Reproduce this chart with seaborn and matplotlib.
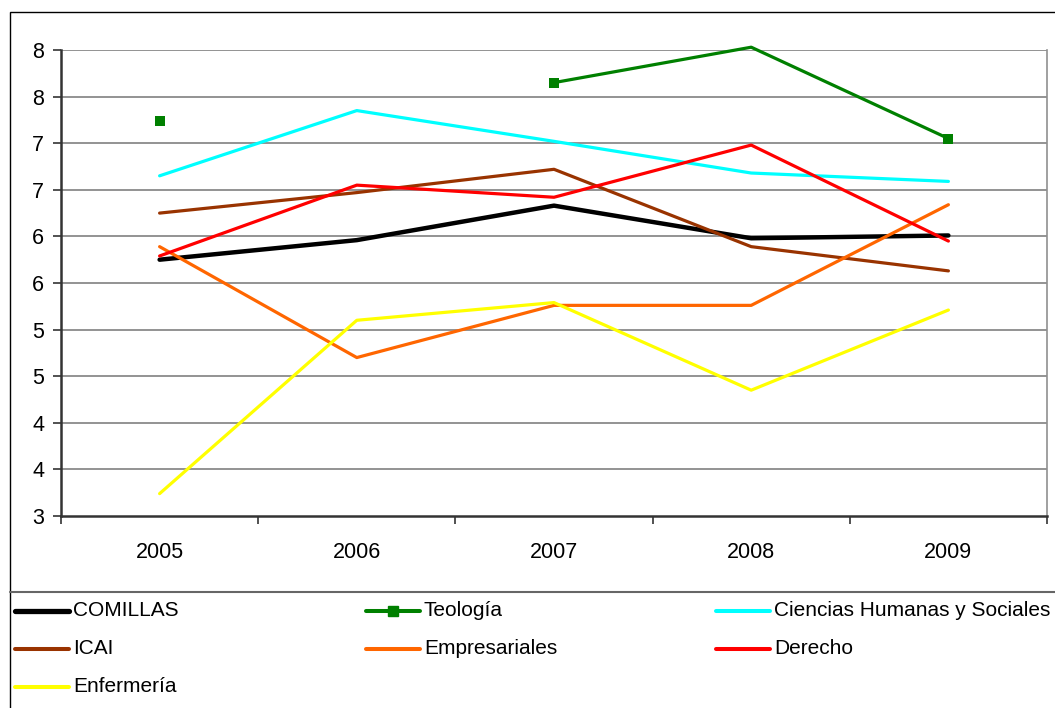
import numpy as np
import pandas as pd
import matplotlib
matplotlib.use("Agg")
import matplotlib.pyplot as plt
import seaborn as sns
from matplotlib.lines import Line2D
from matplotlib.patches import Rectangle

years = ["2005", "2006", "2007", "2008", "2009"]
comillas = [5.75, 5.96, 6.33, 5.98, 6.01]
teologia = [7.24, np.nan, 7.65, 8.03, 7.05]
ciencias = [6.65, 7.35, 7.02, 6.68, 6.59]
icai = [6.25, 6.47, 6.72, 5.89, 5.63]
empresariales = [5.89, 4.70, 5.26, 5.26, 6.34]
derecho = [5.79, 6.55, 6.42, 6.98, 5.95]
enfermeria = [3.24, 5.10, 5.29, 4.35, 5.21]

series_names = ["COMILLAS", "Teología", "Ciencias Humanas y Sociales", "ICAI",
                "Empresariales", "Derecho", "Enfermería"]
series_values = [comillas, teologia, ciencias, icai, empresariales, derecho, enfermeria]
colors = ["#000000", "#008000", "#00FFFF", "#993300", "#FF6600", "#FF0000", "#FFFF00"]
widths = [3.2, 2.3, 2.3, 2.3, 2.3, 2.3, 2.3]

ytick_vals = [3.0, 3.5, 4.0, 4.5, 5.0, 5.5, 6.0, 6.5, 7.0, 7.5, 8.0]
ytick_labels = ["3", "4", "4", "5", "5", "6", "6", "7", "7", "8", "8"]

sns.set_theme(style="white")
plt.rcParams["font.family"] = ["Liberation Sans", "DejaVu Sans"]

W, H = 1055, 708
fig = plt.figure(figsize=(W / 100, H / 100), dpi=100)
ax = fig.add_axes([61 / W, 1 - 516 / H, (1047 - 61) / W, (516 - 50) / H])

xpos = np.arange(len(years))
for name, vals, c, lw in zip(series_names, series_values, colors, widths):
    df = pd.DataFrame({"x": xpos, "y": vals})
    df["seg"] = df["y"].isna().cumsum()
    df = df.dropna()
    for s, sub in df.groupby("seg"):
        if len(sub) > 1:
            sns.lineplot(data=sub, x="x", y="y", color=c, linewidth=lw, ax=ax,
                         legend=False, clip_on=False, zorder=3)
    if name == "Teología":
        mk = df[df["x"] != 3]
        sns.scatterplot(data=mk, x="x", y="y", color=c, marker="s", s=62,
                        edgecolor=c, linewidth=0, ax=ax, legend=False, zorder=4,
                        clip_on=False)

ax.set_xlim(-0.5, 4.5)
ax.set_ylim(3, 8)
ax.set_yticks(ytick_vals)
ax.set_yticklabels(ytick_labels)
ax.set_xticks(xpos)
ax.set_xticklabels(years)
ax.set_xticks(np.arange(-0.5, 4.6, 1.0), minor=True)
ax.tick_params(axis="x", which="major", length=0, pad=19, labelsize=15.5, colors="#000000")
ax.tick_params(axis="x", which="minor", length=6, width=1.2, color="#333333", direction="out", bottom=True)
ax.tick_params(axis="y", length=6, width=1.2, color="#333333", direction="out", left=True,
               labelsize=15.5, pad=6, labelcolor="#000000")
ax.set_xlabel("")
ax.set_ylabel("")
for y in ytick_vals[1:]:
    ax.axhline(y, color="#808080", linewidth=1.2, zorder=1)
ax.spines["left"].set_color("#333333")
ax.spines["left"].set_linewidth(1.8)
ax.spines["bottom"].set_color("#333333")
ax.spines["bottom"].set_linewidth(1.8)
ax.spines["right"].set_color("#909090")
ax.spines["right"].set_linewidth(1.2)
ax.spines["top"].set_visible(False)
ax.grid(False)

# chart frame
fig.add_artist(Rectangle((9.5 / W, -0.1), 1.2, 1.1 - 12 / H, transform=fig.transFigure,
                         fill=False, edgecolor="#000000", linewidth=1.0))
fig.add_artist(Line2D([9.5 / W, 1], [1 - 592 / H, 1 - 592 / H], transform=fig.transFigure,
                      color="#666666", linewidth=1.5))

# legend
col_x = [15, 366, 716]
row_y = [611, 649, 687]
for i, (name, c, lw) in enumerate(zip(series_names, colors, widths)):
    r, k = divmod(i, 3)
    x0 = col_x[k]
    y0 = 1 - row_y[r] / H
    fig.add_artist(Line2D([x0 / W, (x0 + 54) / W], [y0, y0], transform=fig.transFigure,
                          color=c, linewidth=lw + 0.6, solid_capstyle="round"))
    if name == "Teología":
        fig.add_artist(Line2D([(x0 + 27) / W], [y0], transform=fig.transFigure,
                              color=c, marker="s", markersize=7.5, linewidth=0))
    fig.text((x0 + 58) / W, y0, name, fontsize=15, va="center", ha="left", color="#000000")

fig.savefig("out.png", dpi=100)
